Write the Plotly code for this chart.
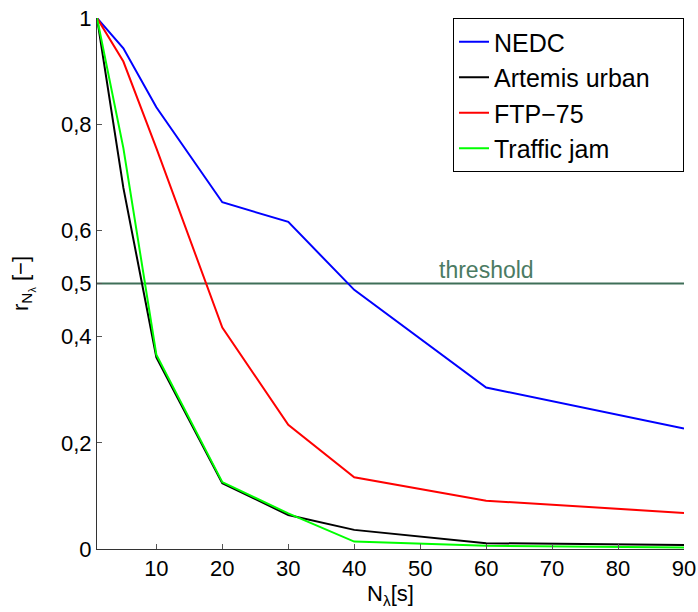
import plotly.graph_objects as go

N_lambda = [1, 5, 10, 20, 30, 40, 60, 90]
nedc = [1.0, 0.943, 0.832, 0.653, 0.616, 0.488, 0.304, 0.227]
artemis_urban = [1.0, 0.68, 0.361, 0.124, 0.064, 0.036, 0.011, 0.0075]
ftp75 = [1.0, 0.918, 0.755, 0.417, 0.234, 0.135, 0.091, 0.068]
traffic_jam = [1.0, 0.755, 0.366, 0.126, 0.067, 0.014, 0.006, 0.003]
threshold = 0.5

x_ticks = [10, 20, 30, 40, 50, 60, 70, 80, 90]
y_ticks = [0, 0.2, 0.4, 0.5, 0.6, 0.8, 1]
y_ticklabels = ["0", "0,2", "0,4", "0,5", "0,6", "0,8", "1"]

FONT = "Liberation Sans, Arial, Helvetica, sans-serif"
TH_LINE = "#3f6f58"
TH_TEXT = "#4b7b63"

fig = go.Figure()
fig.add_trace(go.Scatter(x=[N_lambda[0], N_lambda[-1]], y=[threshold, threshold],
                         mode="lines", line=dict(color=TH_LINE, width=2),
                         showlegend=False, hoverinfo="skip"))
series = [("NEDC", nedc, "#0000ff"),
          ("Artemis urban\u00a0\u00a0\u00a0\u00a0", artemis_urban, "#000000"),
          ("FTP\u221275", ftp75, "#ff0000"),
          ("Traffic jam", traffic_jam, "#00ff00")]
for name, vals, col in series:
    fig.add_trace(go.Scatter(x=N_lambda, y=vals, mode="lines", name=name,
                             line=dict(color=col, width=2)))

fig.add_annotation(x=60, y=threshold, xref="x", yref="y", text="threshold",
                   showarrow=False, yanchor="bottom", xanchor="center", yshift=-1,
                   font=dict(family=FONT, size=23, color=TH_TEXT))

fig.update_layout(
    width=698, height=612,
    margin=dict(l=97, r=14, t=18, b=63, autoexpand=False),
    paper_bgcolor="white", plot_bgcolor="white",
    font=dict(family=FONT, size=22, color="black"),
    legend=dict(x=1, y=1, xanchor="right", yanchor="top",
                bgcolor="white", bordercolor="black", borderwidth=1,
                font=dict(family=FONT, size=25, color="black"),
                tracegroupgap=0, itemwidth=30),
    xaxis=dict(range=[1, 90], tickvals=x_ticks, ticks="inside", ticklen=5,
               tickcolor="#555", showline=True, linecolor="#333", linewidth=1,
               showgrid=False, zeroline=False, mirror=False, automargin=False,
               ticklabeloverflow="allow",
               title=dict(text="N<sub>\u03bb</sub>[s]", standoff=2,
                          font=dict(size=22))),
    yaxis=dict(range=[0, 1], tickvals=y_ticks, ticktext=y_ticklabels,
               ticks="inside", ticklen=5, tickcolor="#555",
               showline=True, linecolor="#333", linewidth=1,
               showgrid=False, zeroline=False, mirror=False, automargin=False,
               ticklabeloverflow="allow",
               title=dict(text="r<sub>N<sub>\u03bb</sub></sub> [\u2212]", standoff=26,
                          font=dict(size=22))),
)

# remove the default page margin so the figure fills the 698x612 window exactly
fig.write_html("out.html",
               config={"displayModeBar": False},
               post_script="document.body.style.margin='0';"
                           "document.body.style.overflow='hidden';")
